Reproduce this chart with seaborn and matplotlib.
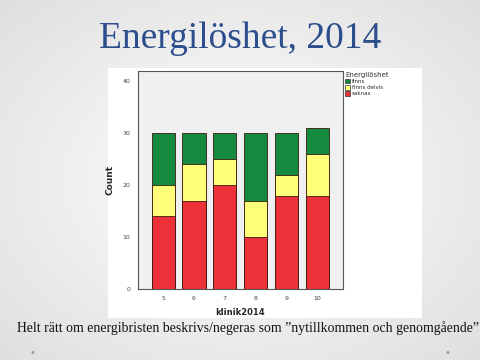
import numpy as np
import pandas as pd
import matplotlib
matplotlib.use("Agg")
import matplotlib.pyplot as plt
import seaborn as sns
from matplotlib.patches import Rectangle, Patch

clinics = ["5", "6", "7", "8", "9", "10"]
saknas = [14, 17, 20, 10, 18, 18]
finns_delvis = [6, 7, 5, 7, 4, 8]
finns = [10, 6, 5, 13, 8, 5]

categories = ["finns", "finns delvis", "saknas"]
colors = {"finns": "#148a3e", "finns delvis": "#ffff7a", "saknas": "#ec3238"}

sns.set_theme(style="white")
plt.rcParams["font.family"] = ["DejaVu Sans"]

fig = plt.figure(figsize=(4.8, 3.6), dpi=100)

# slide background: soft radial gradient
bg = fig.add_axes([0, 0, 1, 1], zorder=-10)
yy, xx = np.mgrid[-1:1:200j, -1:1:200j]
rad = np.sqrt(xx ** 2 + yy ** 2)
bg.imshow(1 - 0.09 * np.clip(rad, 0, 1.4), cmap="gray", vmin=0, vmax=1,
          extent=[0, 1, 0, 1], aspect="auto")
bg.axis("off")

# white chart panel
fig.patches.append(Rectangle((108 / 480, 42 / 360), 314 / 480, 250 / 360,
                             transform=fig.transFigure, facecolor="white",
                             edgecolor="none", zorder=-5))

ax = fig.add_axes([138 / 480, 71 / 360, 205 / 480, 218 / 360])
ax.set_facecolor("#f0f0f0")

df = pd.DataFrame({"klinik2014": clinics, "saknas": saknas,
                   "finns delvis": finns_delvis, "finns": finns})
df["top_finns"] = df["saknas"] + df["finns delvis"] + df["finns"]
df["top_delvis"] = df["saknas"] + df["finns delvis"]

for col, cat in [("top_finns", "finns"), ("top_delvis", "finns delvis"), ("saknas", "saknas")]:
    sns.barplot(data=df, x="klinik2014", y=col, order=clinics, color=colors[cat],
                saturation=1, width=0.75, edgecolor="#3a1a10", linewidth=0.6, ax=ax)

ax.set_ylim(0, 42)
ax.set_xlim(-0.82, 5.84)
ax.set_yticks([0, 10, 20, 30, 40])
ax.tick_params(axis="both", labelsize=4.5, colors="#444444", length=2, width=0.5)
ax.tick_params(axis="x", pad=3)
ax.set_xlabel("klinik2014", fontsize=6, fontweight="bold", labelpad=5)
ax.set_ylabel("Count", fontsize=6.5, fontweight="bold", labelpad=6)
for s in ax.spines.values():
    s.set_color("#555555")
    s.set_linewidth(0.8)

handles = [Patch(facecolor=colors[c], edgecolor="#333333", linewidth=0.5, label=c)
           for c in categories]
leg = fig.legend(handles=handles, title="Energilöshet", loc="upper left",
                 bbox_to_anchor=(345 / 480, 1 - 72 / 360), frameon=False,
                 fontsize=4, title_fontsize=5, handlelength=0.9, handleheight=0.9,
                 handletextpad=0.3, labelspacing=0.15, borderpad=0, borderaxespad=0)
leg._legend_box.align = "left"
leg.get_title().set_color("#333333")

fig.text(0.5, 1 - 39 / 360, "Energilöshet, 2014", ha="center", va="center",
         fontsize=27, color="#2d4e8c", family=["Liberation Serif", "DejaVu Serif"])
fig.text(0.517, 1 - 328 / 360,
         "Helt rätt om energibristen beskrivs/negeras som ”nytillkommen och genomgående”",
         ha="center", va="center", fontsize=9.9, color="#111111",
         family=["Liberation Serif", "DejaVu Serif"])
fig.text(32 / 480, 1 - 353 / 360, "•", fontsize=7, color="#999999", ha="center", va="center")
fig.text(447 / 480, 1 - 353 / 360, "•", fontsize=7, color="#999999", ha="center", va="center")

fig.savefig("out.png", dpi=100)
